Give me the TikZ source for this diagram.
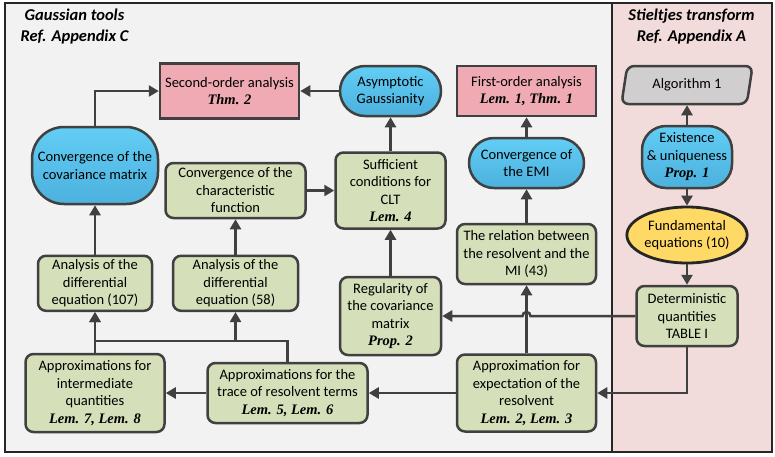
\documentclass[tikz,border=0pt]{standalone}
\usepackage{fontspec}
\setmainfont{Carlito}
\newfontfamily\serifbi{Liberation Serif}
\usetikzlibrary{arrows.meta,shapes.geometric}

\definecolor{lineC}{HTML}{404040}
\definecolor{frameC}{HTML}{262626}
\definecolor{leftbg}{HTML}{F2F2F2}
\definecolor{rightbg}{HTML}{F2DCDB}
\definecolor{greenF}{HTML}{D5DFB9}
\definecolor{pinkF}{HTML}{F0AAB3}
\definecolor{grayF}{HTML}{D0CECE}
\definecolor{yellowF}{HTML}{FFD966}
\definecolor{blueT}{HTML}{62CDF5}
\definecolor{blueB}{HTML}{4CB1DD}

\newcommand{\refbi}[1]{{\serifbi\bfseries\itshape #1}}

\begin{document}
\begin{tikzpicture}[
    x=1pt, y=-1pt, % pixel-like coordinates
    >={Triangle[length=10pt,width=11pt]}, % Default arrow tip
    every node/.style={font=\fontsize{14.5}{17.5}\selectfont, align=center, inner sep=0pt},
    sz/.style 2 args={minimum width=#1pt, minimum height=#2pt},
    box/.style={draw=lineC, line width=2.5pt},
    green/.style={box, fill=greenF, rounded corners=8pt},
    pink/.style={box, fill=pinkF},
    blob/.style={box, top color=blueT, bottom color=blueB, rounded corners=#1pt},
    title/.style={font=\fontsize{16.5}{21}\selectfont\bfseries\itshape},
    link/.style={->, draw=lineC, line width=2.5pt}
]
    \useasboundingbox (0,0) rectangle (775,456);

    % Panels
    \fill[leftbg] (5,3) rectangle (612,452);
    \fill[rightbg] (612,3) rectangle (772,452);
    \draw[frameC, line width=2pt] (5,3) rectangle (772,452);
    \draw[frameC, line width=2pt] (612,3) -- (612,452);

    % Panel titles
    \node[title] (tleft) at (74.5,26.5) {Gaussian tools\\Ref. Appendix C};
    \node[title] (tright) at (691.5,26.5) {Stieltjes transform\\Ref. Appendix A};

    % Top row
    \node[pink, sz={139}{55}] (sec) at (229.5,91) {Second-order analysis\\\refbi{Thm. 2}};
    \node[blob=25, sz={101}{50}] (asy) at (390.5,91) {Asymptotic\\Gaussianity};
    \node[pink, sz={139}{50}] (first) at (526.5,91) {First-order analysis\\\refbi{Lem. 1, Thm. 1}};
    \node[trapezium, trapezium left angle=75, trapezium right angle=105, trapezium stretches=true,
          box, fill=grayF, rounded corners=7pt, sz={132}{38}] (alg) at (687,85) {Algorithm 1};

    % Second row
    \node[blob=32, sz={126}{77}] (cov) at (95,165.5) {Convergence of the\\covariance matrix};
    \node[green, sz={140}{55}] (char) at (235.5,190.5) {Convergence of the\\characteristic\\function};
    \node[green, sz={110}{76}] (suff) at (390.5,190.5) {Sufficient\\conditions for\\CLT\\\refbi{Lem. 4}};
    \node[blob=25, sz={115}{50}] (emi) at (526.5,163) {Convergence of\\the EMI};
    \node[blob=24, sz={90}{62}] (exist) at (687,157) {Existence\\\& uniqueness\\\refbi{Prop. 1}};

    % Third row
    \node[ellipse, draw=frameC, line width=2.8pt, fill=yellowF, sz={115}{56}] (fund) at (687,235) {Fundamental\\equations (10)};
    \node[green, sz={139}{60}] (rel) at (526.5,254) {The relation between\\the resolvent and the\\MI (43)};
    \node[green, sz={114}{55}] (an107) at (95,283.3) {Analysis of the\\differential\\equation (107)};
    \node[green, sz={125}{55}] (an58) at (235.5,283.3) {Analysis of the\\differential\\equation (58)};
    \node[green, sz={101}{78}] (reg) at (390.5,316) {Regularity of\\the covariance\\matrix\\\refbi{Prop. 2}};
    \node[green, sz={101}{60}] (det) at (687,316) {Deterministic\\quantities\\TABLE I};

    % Bottom row
    \node[green, sz={139}{78}] (inter) at (95,393) {Approximations for\\intermediate\\quantities\\\refbi{Lem. 7, Lem. 8}};
    \node[green, sz={160}{60}] (trace) at (287.5,393) {Approximations for the\\trace of resolvent terms\\\refbi{Lem. 5, Lem. 6}};
    \node[green, sz={139}{77}] (exp) at (526.5,393) {Approximation for\\expectation of the\\resolvent\\\refbi{Lem. 2, Lem. 3}};

    % Helper points
    \coordinate (bend) at (287.5,341);
    \coordinate (hop) at (526.5,316);

    % Connectors
    \draw[link] (cov.north) |- (sec.west);
    \draw[link] (asy) -- (sec);
    \draw[link] (suff) -- (asy);
    \draw[link] (char) -- (suff);
    \draw[link] (emi) -- (first);
    \draw[link] (rel) -- (emi);
    \draw[link] (exist) -- (alg);
    \draw[link] (exist) -- (fund);
    \draw[link] (fund) -- (det);
    \draw[link] (det.west) -- ([xshift=4pt]hop) arc[start angle=0, end angle=180, radius=4pt] -- (reg.east);
    \draw[link] (reg) -- (suff);
    \draw[link] (det.south) |- (exp.east);
    \draw[link] (exp) -- (rel);
    \draw[link] (exp) -- (trace);
    \draw[link] (trace) -- (inter);
    \draw[link] (inter) -- (an107);
    \draw[link] (trace.north) |- (an107.south |- bend) -- (an107.south);
    \draw[link] (bend -| an58.south) -- (an58.south);
    \draw[link] (an107) -- (cov);
    \draw[link] (an58) -- (char);

\end{tikzpicture}
\end{document}
